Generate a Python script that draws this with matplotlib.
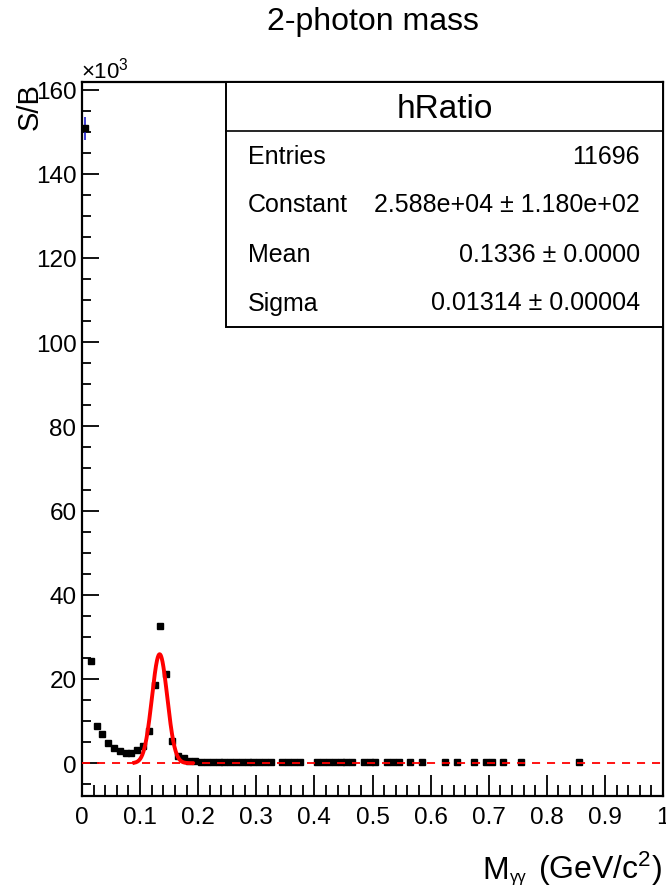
import matplotlib
matplotlib.use('Agg')
import matplotlib.pyplot as plt
import numpy as np
from matplotlib.ticker import MultipleLocator, FuncFormatter
from matplotlib.patches import Rectangle
from matplotlib.lines import Line2D

plt.rcParams['font.family'] = ['Liberation Sans', 'DejaVu Sans']
plt.rcParams['mathtext.fontset'] = 'custom'
plt.rcParams['mathtext.rm'] = 'Liberation Sans'
plt.rcParams['mathtext.it'] = 'Liberation Sans:italic'
plt.rcParams['lines.scale_dashes'] = False

# ---- data (S/B in units of 10^3) ----
mass_centers = [0.005, 0.015, 0.025, 0.035, 0.045, 0.055, 0.065, 0.075, 0.085, 0.095,
                0.105, 0.115, 0.125, 0.135, 0.145, 0.155, 0.165, 0.175, 0.185,
                0.195, 0.205, 0.215, 0.225, 0.235, 0.245, 0.255, 0.265, 0.275, 0.285,
                0.295, 0.305, 0.315, 0.325,
                0.345, 0.355, 0.365, 0.375,
                0.405, 0.415, 0.425, 0.435, 0.445, 0.455, 0.465,
                0.485, 0.495, 0.505,
                0.525, 0.535, 0.545, 0.565, 0.585,
                0.625, 0.645, 0.675, 0.695, 0.705, 0.725, 0.755, 0.855]
ratio_k = [150.8, 24.3, 8.9, 6.9, 4.9, 3.7, 2.8, 2.4, 2.4, 3.1,
           4.1, 7.7, 18.5, 32.5, 21.1, 5.3, 1.7, 1.2, 0.6,
           0.4, 0.3, 0.3, 0.3, 0.2, 0.2, 0.2, 0.2, 0.2, 0.2,
           0.2, 0.2, 0.2, 0.2,
           0.2, 0.2, 0.2, 0.2,
           0.2, 0.2, 0.2, 0.2, 0.2, 0.2, 0.2,
           0.2, 0.2, 0.2,
           0.2, 0.2, 0.2, 0.2, 0.2,
           0.2, 0.2, 0.2, 0.2, 0.2, 0.2, 0.2, 0.2]
ratio_err_k = [2.8] + [0.3] * (len(ratio_k) - 1)

fit_constant_k = 25.88
fit_mean = 0.1336
fit_sigma = 0.01314
fit_range = (0.09, 0.19)

stat_title = "hRatio"
stat_names = ["Entries", "Constant", "Mean", "Sigma"]
stat_values = ["11696", "2.588e+04 \u00b1 1.180e+02", "0.1336 \u00b1 0.0000", "0.01314 \u00b1 0.00004"]

W, H = 666, 887
fig = plt.figure(figsize=(W / 100, H / 100), dpi=100)
def fx(px): return px / W
def fy(py): return 1 - py / H

L, R, T, B = 82, 663, 83, 797
ax = fig.add_axes([fx(L), fy(B), fx(R) - fx(L), fy(T) - fy(B)])
ax.set_xlim(0, 1)
ax.set_ylim(-7.8, 161.8)

# points
ax.errorbar(mass_centers, ratio_k, yerr=ratio_err_k, fmt='s', ms=4.6,
            mfc='black', mec='black', ecolor='#1a1acc', elinewidth=1.2,
            capsize=0, zorder=3)

# fit curve
xs = np.linspace(fit_range[0], fit_range[1], 400)
gs = fit_constant_k * np.exp(-0.5 * ((xs - fit_mean) / fit_sigma) ** 2)
ax.plot(xs, gs, color='red', lw=2.8, zorder=4)

# zero line
ax.axhline(0, color='red', lw=1.3, ls=(0, (5.8, 5.0)), zorder=5)

# axes styling
for s in ax.spines.values():
    s.set_linewidth(1.6)
ax.xaxis.set_major_locator(MultipleLocator(0.1))
ax.xaxis.set_minor_locator(MultipleLocator(0.02))
ax.yaxis.set_major_locator(MultipleLocator(20))
ax.yaxis.set_minor_locator(MultipleLocator(5))
ax.tick_params(axis='x', which='both', direction='in', top=False, bottom=True,
               labelsize=17.5, pad=7, width=1.3)
ax.tick_params(axis='y', which='both', direction='in', left=True, right=False,
               labelsize=17.5, pad=4, width=1.3)
ax.tick_params(axis='x', which='major', length=15)
ax.tick_params(axis='x', which='minor', length=7.7)
ax.tick_params(axis='y', which='major', length=12.5)
ax.tick_params(axis='y', which='minor', length=6.3)
ax.xaxis.set_major_formatter(FuncFormatter(lambda v, p: '%g' % round(v, 2)))
ax.yaxis.set_major_formatter(FuncFormatter(lambda v, p: '%g' % round(v, 2)))

# title & labels
fig.text(fx(373), fy(22), "2-photon mass", ha='center', va='center', fontsize=23)
fig.text(fx(30), fy(83), "S/B", rotation=90, ha='center', va='top', fontsize=21)
fig.text(fx(81), fy(71), r"$\times$10$^{3}$", ha='left', va='center', fontsize=16)

# x-axis title composed of pieces: "M" + small "γγ" + " (GeV/c²)"
renderer = fig.canvas.get_renderer()
base_y = fy(879)
t_unit = fig.text(fx(662), base_y, r"(GeV/c$^{2}$)", ha='right', va='baseline', fontsize=23)
bb = t_unit.get_window_extent(renderer)
x_left = bb.x0 - 11
t_sub = fig.text(x_left / W, fy(882), "\u03b3\u03b3", ha='right', va='baseline', fontsize=12)
bb2 = t_sub.get_window_extent(renderer)
fig.text((bb2.x0 - 1) / W, base_y, "M", ha='right', va='baseline', fontsize=23)

# stat box
bx0, bx1, by0, by1, bh = 226, 663, 83, 328, 132
fig.patches.append(Rectangle((fx(bx0), fy(by1)), fx(bx1) - fx(bx0), fy(by0) - fy(by1),
                             transform=fig.transFigure, facecolor='white', edgecolor='black',
                             lw=1.4, zorder=10))
fig.lines.append(Line2D([fx(bx0), fx(bx1)], [fy(bh), fy(bh)], transform=fig.transFigure,
                        color='black', lw=1.2, zorder=11))
fig.text(fx((bx0 + bx1) / 2), fy(110), stat_title, ha='center', va='center', fontsize=24, zorder=12)
row_h = (by1 - bh) / len(stat_names)
for i, (n, v) in enumerate(zip(stat_names, stat_values)):
    yc = bh + row_h * (i + 0.5)
    fig.text(fx(248), fy(yc), n, ha='left', va='center', fontsize=18, zorder=12)
    fig.text(fx(640), fy(yc), v, ha='right', va='center', fontsize=18, zorder=12)

fig.savefig('out.png', dpi=100)
